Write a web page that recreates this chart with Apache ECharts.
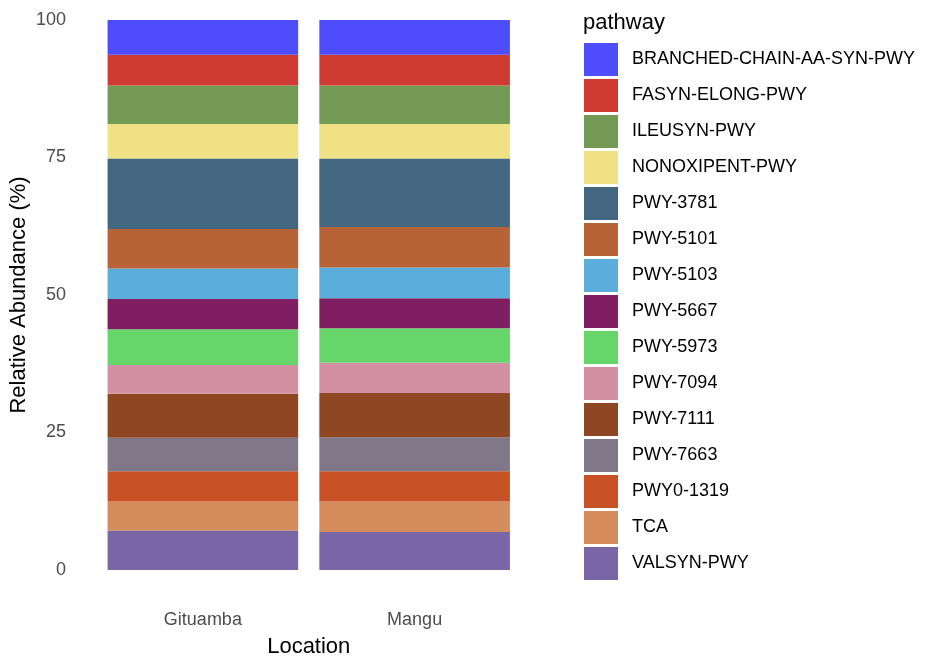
<!DOCTYPE html>
<html>
<head>
<meta charset="utf-8">
<script src="https://cdn.jsdelivr.net/npm/echarts@6/dist/echarts.min.js"></script>
<style>
  html, body { margin: 0; padding: 0; background: #fff; }
  #chart { width: 935px; height: 663px; }
</style>
</head>
<body>
<div id="chart"></div>
<script>
// locations on the x axis
var locations = ['Gituamba', 'Mangu'];

// pathways, listed in legend order (top of the stack first)
var pathways = [
  'BRANCHED-CHAIN-AA-SYN-PWY', 'FASYN-ELONG-PWY', 'ILEUSYN-PWY', 'NONOXIPENT-PWY',
  'PWY-3781', 'PWY-5101', 'PWY-5103', 'PWY-5667', 'PWY-5973', 'PWY-7094',
  'PWY-7111', 'PWY-7663', 'PWY0-1319', 'TCA', 'VALSYN-PWY'
];

// relative abundance (%) per pathway, same order as pathways
var gituamba = [6.33, 5.60, 6.99, 6.26, 12.82, 7.18, 5.55, 5.48, 6.50, 5.25, 8.01, 6.08, 5.48, 5.31, 7.16];
var mangu    = [6.33, 5.60, 6.99, 6.26, 12.47, 7.35, 5.60, 5.43, 6.27, 5.53, 8.02, 6.20, 5.48, 5.55, 6.92];

var colors = [
  '#4d4dfc', '#cf3b31', '#729a55', '#f0e184', '#436681', '#b86337', '#5baedc', '#801e62',
  '#66d56a', '#d490a3', '#8e4623', '#807789', '#c75125', '#d48c5d', '#7a65a6'
];

var yTicks = [0, 25, 50, 75, 100];

var font = '"Liberation Sans", Arial, sans-serif';

// stack bottom-up: last pathway at the bottom
var series = [];
for (var i = pathways.length - 1; i >= 0; i--) {
  series.push({
    name: pathways[i],
    type: 'bar',
    stack: 'total',
    barCategoryGap: '10%',
    data: [gituamba[i], mangu[i]],
    itemStyle: { color: colors[i] },
    emphasis: { disabled: true }
  });
}

var chart = echarts.init(document.getElementById('chart'));
chart.setOption({
  animation: false,
  textStyle: { fontFamily: font },
  title: {
    text: 'pathway',
    left: 583,
    top: 12,
    padding: 0,
    textStyle: { fontFamily: font, fontSize: 22, fontWeight: 'normal', color: '#000' }
  },
  legend: {
    orient: 'vertical',
    left: 584,
    top: 43,
    padding: 0,
    icon: 'rect',
    itemWidth: 34,
    itemHeight: 33,
    itemGap: 3,
    data: pathways,
    selectedMode: false,
    textStyle: { fontFamily: font, fontSize: 18, color: '#000', padding: [0, 0, 0, 9] }
  },
  grid: { left: 97, top: 20, width: 423.5, height: 553.3, containLabel: false },
  xAxis: {
    type: 'category',
    data: locations,
    axisLine: { show: false },
    axisTick: { show: false },
    axisLabel: { margin: 41, fontSize: 18, color: '#4d4d4d', fontFamily: font },
    name: 'Location',
    nameLocation: 'middle',
    nameGap: 66,
    nameTextStyle: { fontSize: 22, color: '#000', fontFamily: font }
  },
  yAxis: {
    type: 'value',
    min: yTicks[0],
    max: yTicks[yTicks.length - 1],
    interval: yTicks[1] - yTicks[0],
    splitLine: { show: false },
    axisLine: { show: false },
    axisTick: { show: false },
    axisLabel: { margin: 31, fontSize: 18, color: '#4d4d4d', fontFamily: font },
    name: 'Relative Abundance (%)',
    nameLocation: 'middle',
    nameRotate: 90,
    nameGap: 67,
    nameTextStyle: { fontSize: 22, color: '#000', fontFamily: font }
  },
  series: series
});
</script>
</body>
</html>
